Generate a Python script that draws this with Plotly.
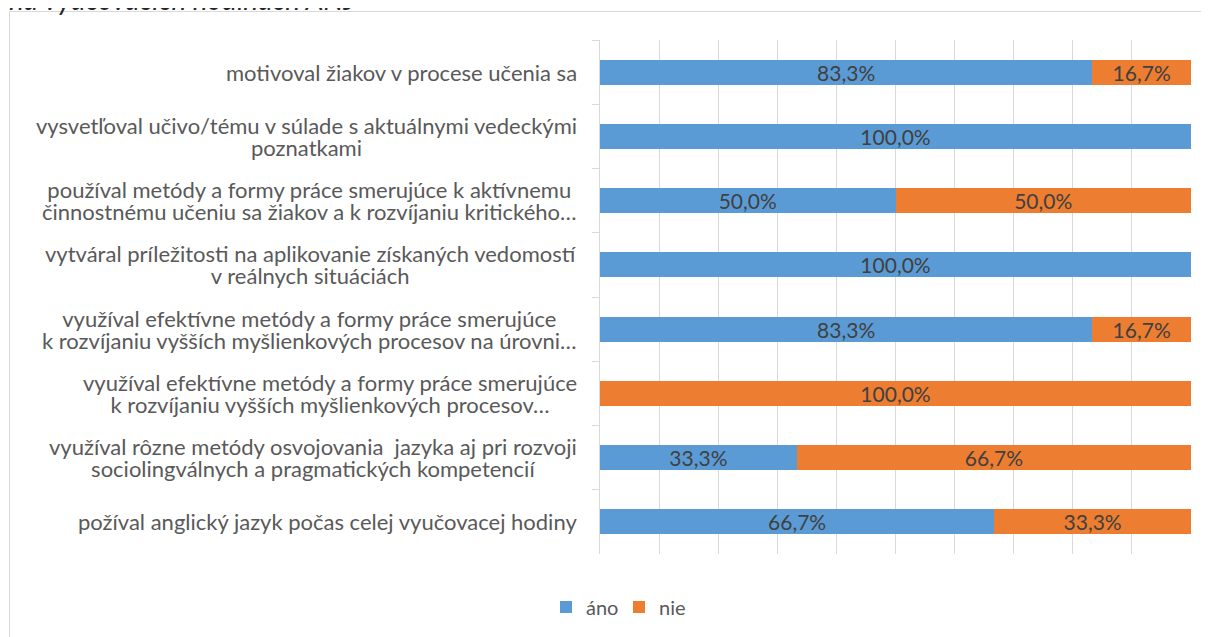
import plotly.graph_objects as go

categories = [
    "motivoval žiakov v procese učenia sa",
    "vysvetľoval učivo/tému v súlade s aktuálnymi vedeckými<br>poznatkami",
    "používal metódy a formy práce smerujúce k aktívnemu<br>činnostnému učeniu sa žiakov a k rozvíjaniu kritického…",
    "vytváral príležitosti na aplikovanie získaných vedomostí<br>v reálnych situáciách",
    "využíval efektívne metódy a formy práce smerujúce<br>k rozvíjaniu vyšších myšlienkových procesov na úrovni…",
    "využíval efektívne metódy a formy práce smerujúce<br>k rozvíjaniu vyšších myšlienkových procesov…",
    "využíval rôzne metódy osvojovania  jazyka aj pri rozvoji<br>sociolingválnych a pragmatických kompetencií",
    "požíval anglický jazyk počas celej vyučovacej hodiny",
]
ano = [83.3, 100.0, 50.0, 100.0, 83.3, 0.0, 33.3, 66.7]
nie = [16.7, 0.0, 50.0, 0.0, 16.7, 100.0, 66.7, 33.3]
series_names = ["áno", "nie"]
title_text = "na vyučovacích hodinách ANJ"

ids = [f"c{i}" for i in range(len(categories))]

def fmt(v):
    return "" if v == 0 else f"{v:.1f}".replace(".", ",") + "%"

BLUE = "#5B9BD5"
ORANGE = "#ED7D31"
FONT = "Lato"

fig = go.Figure()
for name, vals, col in [(series_names[0], ano, BLUE), (series_names[1], nie, ORANGE)]:
    fig.add_trace(go.Bar(
        y=ids, x=vals, name=name, orientation="h",
        marker=dict(color=col, line=dict(width=0)),
        text=[fmt(v) for v in vals],
        textposition="inside", insidetextanchor="middle", textangle=0,
        textfont=dict(family=FONT, size=21, color="#404040"),
        hoverinfo="skip",
    ))

# page body has an 8px margin -> work in screen pixels, subtract offset
OFF = 8
W, H = 1209, 637
L, R, T, B = 600 - OFF, W - (1191 - OFF), 40 - OFF, H - (554 - OFF)
pw, ph = W - L - R, H - T - B

def px_x(p):
    return (p - OFF - L) / pw

def px_y(p):
    return 1 - (p - OFF - T) / ph

annotations = []
for cid, lab in zip(ids, categories):
    lines = lab.split("<br>")
    txt = "<br>".join(f'<span style="font-size:22px">{ln}</span>' for ln in lines)
    annotations.append(dict(
        x=px_x(579), xref="paper", y=cid, yref="y",
        text=txt, showarrow=False, xanchor="right", yanchor="middle",
        align="center", font=dict(family=FONT, size=17, color="#595959"),
    ))
annotations.append(dict(
    x=px_x(7), xref="paper", y=px_y(18), yref="paper",
    text=f"<i>{title_text}</i>", showarrow=False, xanchor="left", yanchor="bottom",
    font=dict(family=FONT, size=28, color="#262626"),
))

fig.update_layout(
    width=W, height=H,
    margin=dict(l=L, r=R, t=T, b=B, pad=0),
    barmode="stack", bargap=0.61,
    paper_bgcolor="white", plot_bgcolor="white",
    uniformtext=dict(minsize=21, mode="show"),
    xaxis=dict(range=[0, 100], dtick=10, showgrid=True, gridcolor="#D9D9D9", gridwidth=1,
               zeroline=False, showticklabels=False, showline=False, fixedrange=True),
    yaxis=dict(categoryorder="array", categoryarray=ids, autorange="reversed",
               showticklabels=False, showgrid=False, zeroline=False,
               showline=True, linecolor="#D9D9D9", linewidth=1,
               ticks="outside", tickson="boundaries", ticklen=7, tickcolor="#D9D9D9"),
    legend=dict(orientation="h", x=px_x(546), xanchor="left", y=px_y(607), yanchor="middle",
                font=dict(family=FONT, size=20, color="#595959"), traceorder="normal",
                entrywidth=28, entrywidthmode="pixels", itemclick=False),
    annotations=annotations,
    shapes=[dict(type="rect", xref="paper", yref="paper",
                 x0=px_x(9.5), x1=px_x(1230), y0=px_y(660), y1=px_y(11.5),
                 line=dict(color="#D9D9D9", width=1), fillcolor="rgba(0,0,0,0)", layer="below")],
    showlegend=True,
)

fig.write_html("out.html", config={"displayModeBar": False})
